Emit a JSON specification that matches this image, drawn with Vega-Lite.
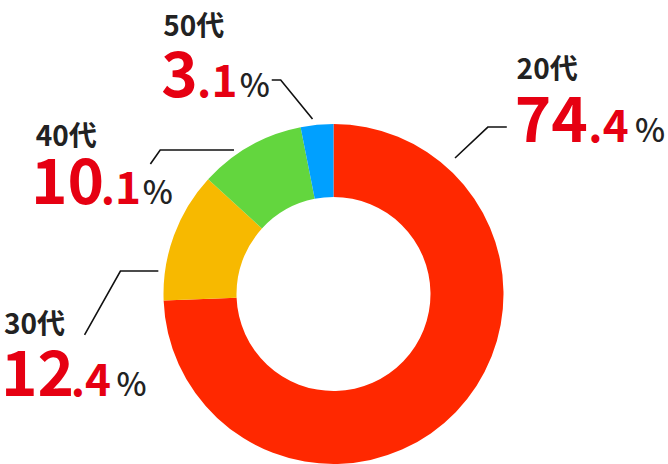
{
  "$schema": "https://vega.github.io/schema/vega-lite/v6.json",
  "width": 668,
  "height": 464,
  "autosize": {"type": "fit", "contains": "padding"},
  "padding": 0,
  "background": "white",
  "config": {"view": {"stroke": null}},
  "datasets": {
    "slices": [
      {"age": "20代", "value": 74.4, "order": 1},
      {"age": "30代", "value": 12.4, "order": 2},
      {"age": "40代", "value": 10.1, "order": 3},
      {"age": "50代", "value": 3.1, "order": 4}
    ],
    "leaders": [
      {"age": "20代", "seq": 1, "x": 71.8, "y": 80.0},
      {"age": "20代", "seq": 2, "x": 91.2, "y": 98.2},
      {"age": "20代", "seq": 3, "x": 102.4, "y": 98.2},
      {"age": "50代", "seq": 1, "x": -12.4, "y": 102.9},
      {"age": "50代", "seq": 2, "x": -31.2, "y": 125.9},
      {"age": "50代", "seq": 3, "x": -36.5, "y": 125.9},
      {"age": "40代", "seq": 1, "x": -58.8, "y": 84.7},
      {"age": "40代", "seq": 2, "x": -102.4, "y": 84.7},
      {"age": "40代", "seq": 3, "x": -108.2, "y": 76.5},
      {"age": "30代", "seq": 1, "x": -103.5, "y": 13.5},
      {"age": "30代", "seq": 2, "x": -125.9, "y": 13.5},
      {"age": "30代", "seq": 3, "x": -147.1, "y": -24.1}
    ],
    "texts": [
      {"age": "20代", "part": "name", "text": "20代", "x": 108.2, "y": 126.5},
      {"age": "20代", "part": "int", "text": "74", "x": 107.1, "y": 89.4},
      {"age": "20代", "part": "dec", "text": ".4", "x": 150.6, "y": 89.4},
      {"age": "20代", "part": "pct", "text": "%", "x": 178.2, "y": 89.4},
      {"age": "50代", "part": "name", "text": "50代", "x": -100.6, "y": 151.8},
      {"age": "50代", "part": "int", "text": "3", "x": -101.8, "y": 115.9},
      {"age": "50代", "part": "dec", "text": ".1", "x": -80.6, "y": 115.9},
      {"age": "50代", "part": "pct", "text": "%", "x": -55.4, "y": 115.9},
      {"age": "40代", "part": "name", "text": "40代", "x": -175.9, "y": 87.1},
      {"age": "40代", "part": "int", "text": "10", "x": -178.8, "y": 52.9},
      {"age": "40代", "part": "dec", "text": ".1", "x": -137.6, "y": 52.9},
      {"age": "40代", "part": "pct", "text": "%", "x": -112.7, "y": 52.9},
      {"age": "30代", "part": "name", "text": "30代", "x": -194.7, "y": -23.5},
      {"age": "30代", "part": "int", "text": "12", "x": -196.5, "y": -60.0},
      {"age": "30代", "part": "dec", "text": ".4", "x": -155.3, "y": -60.0},
      {"age": "30代", "part": "pct", "text": "%", "x": -128.2, "y": -60.0}
    ]
  },
  "layer": [
    {
      "data": {"name": "slices"},
      "mark": {"type": "arc", "radius": 170, "radius2": 97, "stroke": null},
      "encoding": {
        "x": {"datum": 0, "type": "quantitative", "scale": {"domain": [-195.29, 197.65], "nice": false, "zero": false}, "axis": null},
        "y": {"datum": 0, "type": "quantitative", "scale": {"domain": [-100, 172.94], "nice": false, "zero": false}, "axis": null},
        "theta": {"field": "value", "type": "quantitative", "stack": true},
        "order": {"field": "order", "type": "quantitative"},
        "color": {
          "field": "age", "type": "nominal",
          "scale": {"domain": ["20代", "30代", "40代", "50代"], "range": ["#FF2800", "#F7B900", "#63D63E", "#00A0FF"]},
          "legend": null
        }
      }
    },
    {
      "data": {"name": "leaders"},
      "mark": {"type": "line", "color": "#111111", "strokeWidth": 1.6},
      "encoding": {
        "x": {"field": "x", "type": "quantitative", "axis": null},
        "y": {"field": "y", "type": "quantitative", "axis": null},
        "detail": {"field": "age"},
        "order": {"field": "seq", "type": "quantitative"}
      }
    },
    {
      "data": {"name": "texts"},
      "transform": [{"filter": "datum.part === 'name'"}],
      "mark": {"type": "text", "align": "left", "baseline": "alphabetic", "font": "Noto Sans CJK JP", "fontWeight": "bold", "fontSize": 28, "color": "#222222"},
      "encoding": {
        "x": {"field": "x", "type": "quantitative", "axis": null},
        "y": {"field": "y", "type": "quantitative", "axis": null},
        "text": {"field": "text"}
      }
    },
    {
      "data": {"name": "texts"},
      "transform": [{"filter": "datum.part === 'int'"}],
      "mark": {"type": "text", "align": "left", "baseline": "alphabetic", "font": "Noto Sans CJK JP", "fontWeight": "bold", "fontSize": 62, "color": "#E60012"},
      "encoding": {
        "x": {"field": "x", "type": "quantitative", "axis": null},
        "y": {"field": "y", "type": "quantitative", "axis": null},
        "text": {"field": "text"}
      }
    },
    {
      "data": {"name": "texts"},
      "transform": [{"filter": "datum.part === 'dec'"}],
      "mark": {"type": "text", "align": "left", "baseline": "alphabetic", "font": "Noto Sans CJK JP", "fontWeight": "bold", "fontSize": 44, "color": "#E60012"},
      "encoding": {
        "x": {"field": "x", "type": "quantitative", "axis": null},
        "y": {"field": "y", "type": "quantitative", "axis": null},
        "text": {"field": "text"}
      }
    },
    {
      "data": {"name": "texts"},
      "transform": [{"filter": "datum.part === 'pct'"}],
      "mark": {"type": "text", "align": "left", "baseline": "alphabetic", "font": "Noto Sans CJK JP", "fontWeight": 500, "fontSize": 32, "color": "#222222"},
      "encoding": {
        "x": {"field": "x", "type": "quantitative", "axis": null},
        "y": {"field": "y", "type": "quantitative", "axis": null},
        "text": {"field": "text"}
      }
    }
  ]
}
